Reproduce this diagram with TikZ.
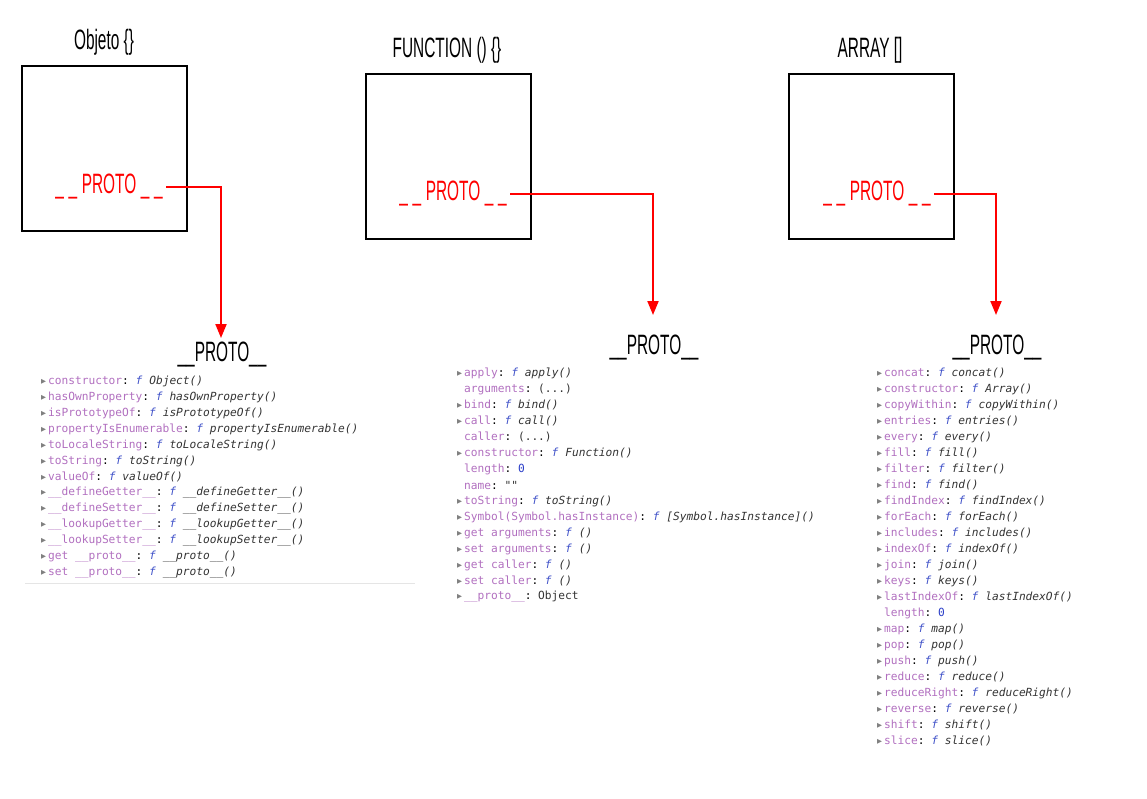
\documentclass[tikz,border=0pt]{standalone}
\usepackage{fontspec}
\setmonofont{DejaVu Sans Mono}
\newfontfamily\hand[FakeStretch=0.55]{Liberation Sans}
\newfontfamily\symb{DejaVu Sans}
\usetikzlibrary{positioning,arrows.meta}
\definecolor{keyc}{HTML}{B16FBF}
\definecolor{fc}{HTML}{3F51C8}
\definecolor{valc}{HTML}{333333}
\definecolor{numc}{HTML}{2B3EC8}
\newcommand{\tri}{{\symb\fontsize{6.5}{6}\selectfont\color{gray}\raisebox{1pt}{▶}}\,}
\newcommand{\fentry}[2]{\tri\textcolor{keyc}{#1}: \textcolor{fc}{\textit{f}} \textcolor{valc}{\textit{#2}}}
\newcommand{\pentry}[2]{\hphantom{\tri}\textcolor{keyc}{#1}: \textcolor{valc}{#2}}
\newcommand{\oentry}[2]{\tri\textcolor{keyc}{#1}: \textcolor{valc}{#2}}
\newcommand{\etcdots}{(.{}.{}.)}
\begin{document}
\begin{tikzpicture}[x=1pt,y=-1pt,
  box/.style={draw,line width=2pt,minimum width=165pt,minimum height=165pt,inner sep=0pt},
  title/.style={font=\hand\fontsize{28}{28}\selectfont},
  proto/.style={font=\hand\fontsize{28}{28}\selectfont,text=red},
  link/.style={-{Triangle[length=14pt,width=11pt]},red,line width=2pt},
  line/.style={anchor=west,inner sep=0pt,font=\ttfamily\fontsize{11.2}{12}\selectfont}]
  \useasboundingbox (0,0) rectangle (1147,798);

  \node[box] (obj) at (104.5,148.5) {};
  \node[box] (fun) at (448,156.5) {};
  \node[box] (arr) at (871.5,156.5) {};
  \node[title] (tobj) at (104,42) {Objeto \{\}};
  \node[title] (tfun) at (447,50) {FUNCTION () \{\}};
  \node[title] (tarr) at (870,50) {ARRAY []};
  \node[proto] (pobj) at (109,187) {\_\,\_\,PROTO\,\_\,\_};
  \node[proto] (pfun) at (453,194) {\_\,\_\,PROTO\,\_\,\_};
  \node[proto] (parr) at (877,194) {\_\,\_\,PROTO\,\_\,\_};
  \node[title] (hobj) at (222,355) {\_\_PROTO\_\_};
  \node[title] (hfun) at (654,347) {\_\_PROTO\_\_};
  \node[title] (harr) at (997,347) {\_\_PROTO\_\_};
  \coordinate (eobj) at (221,338);
  \coordinate (efun) at (653,315);
  \coordinate (earr) at (996,315);

  \draw[link] (pobj.east) -- (221,187) -- (eobj);
  \draw[link] (pfun.east) -- (653,194) -- (efun);
  \draw[link] (parr.east) -- (996,194) -- (earr);

  % Object prototype
  \foreach \t/\k/\v [count=\i from 0] in {f/constructor/Object(), f/hasOwnProperty/hasOwnProperty(),
    f/isPrototypeOf/isPrototypeOf(), f/propertyIsEnumerable/propertyIsEnumerable(),
    f/toLocaleString/toLocaleString(), f/toString/toString(), f/valueOf/valueOf(),
    f/\_\_defineGetter\_\_/\_\_defineGetter\_\_(), f/\_\_defineSetter\_\_/\_\_defineSetter\_\_(),
    f/\_\_lookupGetter\_\_/\_\_lookupGetter\_\_(), f/\_\_lookupSetter\_\_/\_\_lookupSetter\_\_(),
    f/get \_\_proto\_\_/\_\_proto\_\_(), f/set \_\_proto\_\_/\_\_proto\_\_()}
    \node[line] (o\i) at (41,381+16*\i) {\csname\t entry\endcsname{\k}{\v}};
  \draw[black!10] (25,583) -- (415,583);

  % Function prototype
  \foreach \t/\k/\v [count=\i from 0] in {f/apply/apply(), p/arguments/\etcdots, f/bind/bind(),
    f/call/call(), p/caller/\etcdots, f/constructor/Function(), p/length/\textcolor{numc}{0},
    p/name/"{}", f/toString/toString(),
    f/Symbol(Symbol.hasInstance)/[Symbol.hasInstance](), f/get arguments/(), f/set arguments/(),
    f/get caller/(), f/set caller/(), o/\_\_proto\_\_/Object}
    \node[line] (f\i) at (457,373+16*\i) {\csname\t entry\endcsname{\k}{\v}};

  % Array prototype
  \foreach \t/\k/\v [count=\i from 0] in {f/concat/concat(), f/constructor/Array(),
    f/copyWithin/copyWithin(), f/entries/entries(), f/every/every(), f/fill/fill(),
    f/filter/filter(), f/find/find(), f/findIndex/findIndex(), f/forEach/forEach(),
    f/includes/includes(), f/indexOf/indexOf(), f/join/join(), f/keys/keys(),
    f/lastIndexOf/lastIndexOf(), p/length/\textcolor{numc}{0}, f/map/map(), f/pop/pop(),
    f/push/push(), f/reduce/reduce(), f/reduceRight/reduceRight(), f/reverse/reverse(),
    f/shift/shift(), f/slice/slice()}
    \node[line] (a\i) at (877,373+16*\i) {\csname\t entry\endcsname{\k}{\v}};
\end{tikzpicture}
\end{document}
